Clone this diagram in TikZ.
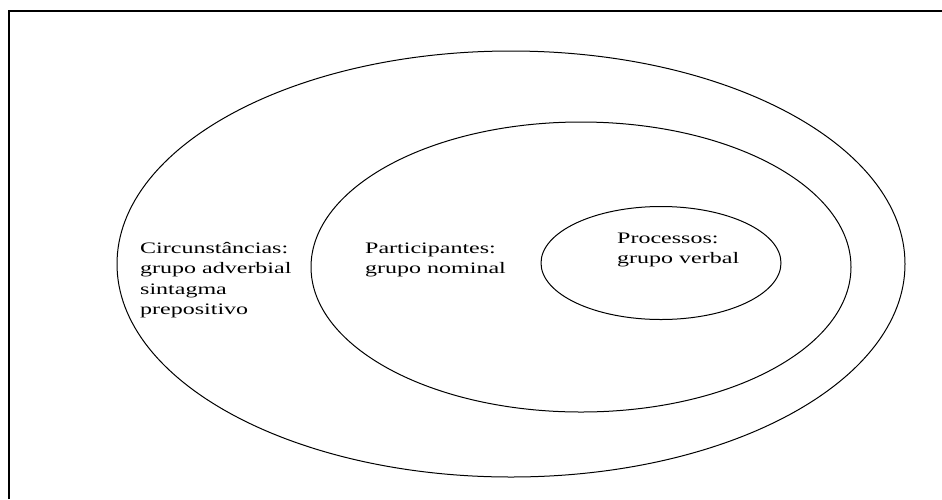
\documentclass[tikz,border=0pt]{standalone}
\usepackage{fontspec}
\setmainfont{Liberation Serif}
\usetikzlibrary{shapes.geometric}
\tikzset{
  ring/.style={draw=black, line width=1pt, ellipse, inner sep=0pt},
  label/.style={anchor=base west, inner sep=0pt, font=\fontsize{16}{20.5}\selectfont},
  frameline/.style={draw=black, line width=2pt}
}
\newcommand{\stretchtext}[1]{\scalebox{1.5}[1]{\begin{tabular}[t]{@{}l@{}}#1\end{tabular}}}
\begin{document}
\begin{tikzpicture}[x=1pt,y=-1pt]
\useasboundingbox (0,0) rectangle (942,499);
\coordinate (fb) at (8.5,499);
\coordinate (fc) at (8.5,10.5);
\coordinate (fr) at (942,10.5);
\draw[frameline] (fb) -- (fc) -- (fr);
\node[ring, minimum width=788pt, minimum height=426pt] (outer) at (511,264) {};
\node[ring, minimum width=540pt, minimum height=290pt] (middle) at (581,267) {};
\node[ring, minimum width=240pt, minimum height=113pt] (inner) at (661,263) {};
\node[label] (circ) at (140,253) {\stretchtext{Circunstâncias:\\grupo adverbial\\sintagma\\prepositivo}};
\node[label] (part) at (365,253) {\stretchtext{Participantes:\\grupo nominal}};
\node[label] (proc) at (617,243) {\stretchtext{Processos:\\grupo verbal}};
\end{tikzpicture}
\end{document}
